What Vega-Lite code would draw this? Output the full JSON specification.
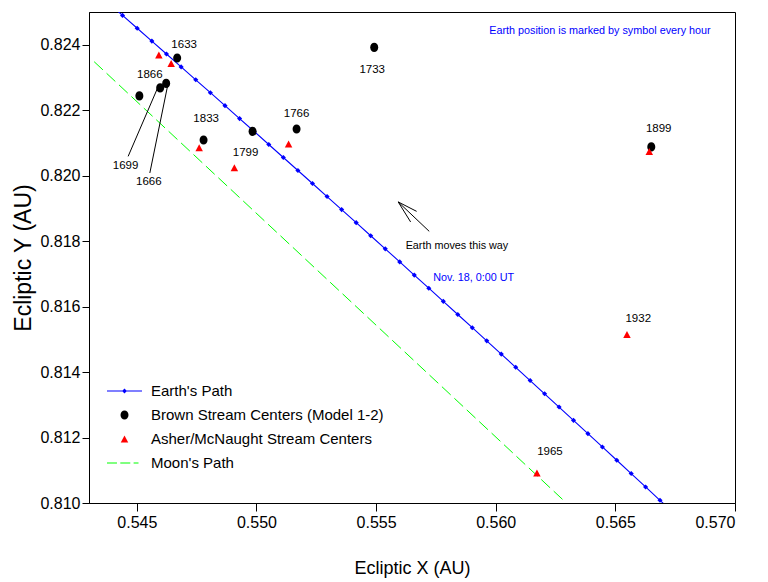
{
  "$schema": "https://vega.github.io/schema/vega-lite/v6.json",
  "width": 646,
  "height": 491,
  "autosize": {"type": "none"},
  "padding": {"left": 89, "top": 12, "right": 33, "bottom": 79},
  "background": "white",
  "config": {
    "view": {"stroke": "#000000", "strokeWidth": 1},
    "font": "Liberation Sans",
    "axis": {
      "grid": false,
      "domainColor": "#000000",
      "tickColor": "#000000",
      "labelColor": "#000000",
      "titleColor": "#000000",
      "labelFont": "Liberation Sans",
      "titleFont": "Liberation Sans",
      "titleFontWeight": "normal",
      "labelFontSize": 16
    }
  },
  "datasets": {
    "earth": [
      {"h": -1, "x": 0.543789, "y": 0.825288},
      {"h": 0, "x": 0.544402, "y": 0.824896},
      {"h": 1, "x": 0.545014, "y": 0.824504},
      {"h": 2, "x": 0.545627, "y": 0.824111},
      {"h": 3, "x": 0.546238, "y": 0.823718},
      {"h": 4, "x": 0.546850, "y": 0.823323},
      {"h": 5, "x": 0.547462, "y": 0.822929},
      {"h": 6, "x": 0.548073, "y": 0.822535},
      {"h": 7, "x": 0.548684, "y": 0.822139},
      {"h": 8, "x": 0.549294, "y": 0.821744},
      {"h": 9, "x": 0.549904, "y": 0.821349},
      {"h": 10, "x": 0.550514, "y": 0.820952},
      {"h": 11, "x": 0.551123, "y": 0.820555},
      {"h": 12, "x": 0.551732, "y": 0.820157},
      {"h": 13, "x": 0.552341, "y": 0.819760},
      {"h": 14, "x": 0.552950, "y": 0.819362},
      {"h": 15, "x": 0.553559, "y": 0.818963},
      {"h": 16, "x": 0.554167, "y": 0.818564},
      {"h": 17, "x": 0.554774, "y": 0.818165},
      {"h": 18, "x": 0.555382, "y": 0.817765},
      {"h": 19, "x": 0.555988, "y": 0.817365},
      {"h": 20, "x": 0.556595, "y": 0.816963},
      {"h": 21, "x": 0.557202, "y": 0.816562},
      {"h": 22, "x": 0.557808, "y": 0.816161},
      {"h": 23, "x": 0.558414, "y": 0.815758},
      {"h": 24, "x": 0.559020, "y": 0.815356},
      {"h": 25, "x": 0.559625, "y": 0.814953},
      {"h": 26, "x": 0.560230, "y": 0.814549},
      {"h": 27, "x": 0.560835, "y": 0.814146},
      {"h": 28, "x": 0.561439, "y": 0.813741},
      {"h": 29, "x": 0.562043, "y": 0.813336},
      {"h": 30, "x": 0.562647, "y": 0.812931},
      {"h": 31, "x": 0.563250, "y": 0.812525},
      {"h": 32, "x": 0.563854, "y": 0.812119},
      {"h": 33, "x": 0.564457, "y": 0.811713},
      {"h": 34, "x": 0.565059, "y": 0.811306},
      {"h": 35, "x": 0.565661, "y": 0.810899},
      {"h": 36, "x": 0.566263, "y": 0.810490},
      {"h": 37, "x": 0.566865, "y": 0.810082},
      {"h": 38, "x": 0.567466, "y": 0.809674}
    ],
    "moon": [
      {"x": 0.543215, "y": 0.823482},
      {"x": 0.562922, "y": 0.810021}
    ],
    "centers": [
      {"series": "Brown Stream Centers (Model 1-2)", "x": 0.546685, "y": 0.823595},
      {"series": "Brown Stream Centers (Model 1-2)", "x": 0.546225, "y": 0.822819},
      {"series": "Brown Stream Centers (Model 1-2)", "x": 0.545974, "y": 0.822679},
      {"series": "Brown Stream Centers (Model 1-2)", "x": 0.545105, "y": 0.822437},
      {"series": "Brown Stream Centers (Model 1-2)", "x": 0.547788, "y": 0.821090},
      {"series": "Brown Stream Centers (Model 1-2)", "x": 0.549837, "y": 0.821353},
      {"series": "Brown Stream Centers (Model 1-2)", "x": 0.551676, "y": 0.821426},
      {"series": "Brown Stream Centers (Model 1-2)", "x": 0.554921, "y": 0.823919},
      {"series": "Brown Stream Centers (Model 1-2)", "x": 0.566501, "y": 0.820877},
      {"series": "Asher/McNaught Stream Centers", "x": 0.545920, "y": 0.823687},
      {"series": "Asher/McNaught Stream Centers", "x": 0.546434, "y": 0.823430},
      {"series": "Asher/McNaught Stream Centers", "x": 0.547605, "y": 0.820855},
      {"series": "Asher/McNaught Stream Centers", "x": 0.549076, "y": 0.820244},
      {"series": "Asher/McNaught Stream Centers", "x": 0.551342, "y": 0.820968},
      {"series": "Asher/McNaught Stream Centers", "x": 0.566417, "y": 0.820742},
      {"series": "Asher/McNaught Stream Centers", "x": 0.565485, "y": 0.815144},
      {"series": "Asher/McNaught Stream Centers", "x": 0.561722, "y": 0.810919}
    ],
    "years": [
      {"label": "1633", "x": 0.546977, "y": 0.824001},
      {"label": "1866", "x": 0.545543, "y": 0.823085},
      {"label": "1699", "x": 0.544528, "y": 0.820284},
      {"label": "1666", "x": 0.545502, "y": 0.819795},
      {"label": "1833", "x": 0.547897, "y": 0.821732},
      {"label": "1799", "x": 0.549544, "y": 0.820693},
      {"label": "1766", "x": 0.551676, "y": 0.821885},
      {"label": "1733", "x": 0.554837, "y": 0.823216},
      {"label": "1899", "x": 0.566810, "y": 0.821426},
      {"label": "1932", "x": 0.565957, "y": 0.815623},
      {"label": "1965", "x": 0.562266, "y": 0.811549}
    ],
    "strokes": [
      {"x": 0.544636, "y": 0.820590, "x2": 0.545849, "y2": 0.822648},
      {"x": 0.545543, "y": 0.820082, "x2": 0.546309, "y2": 0.822831},
      {"x": 0.557220, "y": 0.818299, "x2": 0.555924, "y2": 0.819197},
      {"x": 0.555924, "y": 0.819197, "x2": 0.556693, "y2": 0.818910},
      {"x": 0.555924, "y": 0.819197, "x2": 0.556442, "y2": 0.818586}
    ],
    "blueNotes": [
      {"text": "Earth position is marked by symbol every hour", "x": 0.564356, "y": 0.824429},
      {"text": "Nov. 18, 0:00 UT", "x": 0.559076, "y": 0.816875}
    ],
    "blackNotes": [
      {"text": "Earth moves this way", "x": 0.558378, "y": 0.817862}
    ]
  },
  "layer": [
    {
      "data": {"name": "moon"},
      "mark": {"type": "line", "color": "#00ff00", "strokeWidth": 1, "strokeDash": [12, 5]},
      "encoding": {
        "x": {
          "field": "x", "type": "quantitative",
          "scale": {"domain": [0.543, 0.570], "nice": false, "zero": false},
          "axis": {
            "title": "Ecliptic X (AU)",
            "values": [0.545, 0.55, 0.555, 0.56, 0.565, 0.57],
            "format": ".3f",
            "tickSize": 8,
            "labelPadding": 3,
            "titleFontSize": 18,
            "titlePadding": 29
          }
        },
        "y": {
          "field": "y", "type": "quantitative",
          "scale": {"domain": [0.81, 0.825], "nice": false, "zero": false},
          "axis": {
            "title": "Ecliptic Y (AU)",
            "values": [0.81, 0.812, 0.814, 0.816, 0.818, 0.82, 0.822, 0.824],
            "format": ".3f",
            "tickSize": 7,
            "labelPadding": 2,
            "titleFontSize": 23,
            "titlePadding": 4
          }
        }
      }
    },
    {
      "data": {"name": "earth"},
      "mark": {"type": "line", "color": "#0000ff", "strokeWidth": 1.1, "clip": true},
      "encoding": {
        "x": {"field": "x", "type": "quantitative", "scale": {"domain": [0.543, 0.570], "nice": false, "zero": false}},
        "y": {"field": "y", "type": "quantitative", "scale": {"domain": [0.81, 0.825], "nice": false, "zero": false}},
        "order": {"field": "h", "type": "quantitative"}
      }
    },
    {
      "data": {"name": "earth"},
      "mark": {"type": "point", "shape": "diamond", "size": 26, "filled": true, "color": "#0000ff", "opacity": 1, "clip": true},
      "encoding": {
        "x": {"field": "x", "type": "quantitative", "scale": {"domain": [0.543, 0.570], "nice": false, "zero": false}},
        "y": {"field": "y", "type": "quantitative", "scale": {"domain": [0.81, 0.825], "nice": false, "zero": false}}
      }
    },
    {
      "data": {"name": "strokes"},
      "mark": {"type": "rule", "color": "#000000", "strokeWidth": 1},
      "encoding": {
        "x": {"field": "x", "type": "quantitative", "scale": {"domain": [0.543, 0.570], "nice": false, "zero": false}},
        "y": {"field": "y", "type": "quantitative", "scale": {"domain": [0.81, 0.825], "nice": false, "zero": false}},
        "x2": {"field": "x2"},
        "y2": {"field": "y2"}
      }
    },
    {
      "data": {"name": "centers"},
      "mark": {"type": "point", "filled": true, "size": 1225, "opacity": 1, "strokeWidth": 0},
      "encoding": {
        "x": {"field": "x", "type": "quantitative", "scale": {"domain": [0.543, 0.570], "nice": false, "zero": false}},
        "y": {"field": "y", "type": "quantitative", "scale": {"domain": [0.81, 0.825], "nice": false, "zero": false}},
        "color": {
          "field": "series", "type": "nominal",
          "scale": {
            "domain": ["Earth's Path", "Brown Stream Centers (Model 1-2)", "Asher/McNaught Stream Centers", "Moon's Path"],
            "range": ["#0000ff", "#000000", "#ff0000", "#00ff00"]
          },
          "legend": {
            "title": null,
            "orient": "none",
            "legendX": 18,
            "legendY": 367,
            "padding": 0,
            "symbolSize": 1225,
            "symbolStrokeWidth": 0,
            "symbolOpacity": 1,
            "clipHeight": 24,
            "rowPadding": 0,
            "labelOffset": 9,
            "labelFont": "Liberation Sans",
            "labelFontSize": 15,
            "labelColor": "#000000",
            "labelLimit": 400
          }
        },
        "shape": {
          "field": "series", "type": "nominal",
          "scale": {
            "domain": ["Earth's Path", "Brown Stream Centers (Model 1-2)", "Asher/McNaught Stream Centers", "Moon's Path"],
            "range": [
              "M-1,-0.03L1,-0.03L1,0.03L-1,0.03Z M0,-0.14L0.14,0L0,0.14L-0.14,0Z",
              "M-0.229,0A0.229,0.263,0,1,0,0.229,0A0.229,0.263,0,1,0,-0.229,0Z",
              "M0,-0.2L0.214,0.2L-0.214,0.2Z",
              "M-1,-0.03L-0.43,-0.03L-0.43,0.03L-1,0.03Z M-0.24,-0.03L0.33,-0.03L0.33,0.03L-0.24,0.03Z M0.52,-0.03L0.8,-0.03L0.8,0.03L0.52,0.03Z"
            ]
          },
          "legend": {
            "title": null,
            "orient": "none",
            "legendX": 18,
            "legendY": 367,
            "padding": 0,
            "symbolSize": 1225,
            "symbolStrokeWidth": 0,
            "symbolOpacity": 1,
            "clipHeight": 24,
            "rowPadding": 0,
            "labelOffset": 9,
            "labelFont": "Liberation Sans",
            "labelFontSize": 15,
            "labelColor": "#000000",
            "labelLimit": 400
          }
        }
      }
    },
    {
      "data": {"name": "years"},
      "mark": {"type": "text", "font": "Liberation Sans", "fontSize": 11.5, "color": "#000000", "align": "center", "baseline": "middle"},
      "encoding": {
        "x": {"field": "x", "type": "quantitative", "scale": {"domain": [0.543, 0.570], "nice": false, "zero": false}},
        "y": {"field": "y", "type": "quantitative", "scale": {"domain": [0.81, 0.825], "nice": false, "zero": false}},
        "text": {"field": "label"}
      }
    },
    {
      "data": {"name": "blueNotes"},
      "mark": {"type": "text", "font": "Liberation Sans", "fontSize": 10.8, "color": "#0000ff", "align": "center", "baseline": "middle"},
      "encoding": {
        "x": {"field": "x", "type": "quantitative", "scale": {"domain": [0.543, 0.570], "nice": false, "zero": false}},
        "y": {"field": "y", "type": "quantitative", "scale": {"domain": [0.81, 0.825], "nice": false, "zero": false}},
        "text": {"field": "text"}
      }
    },
    {
      "data": {"name": "blackNotes"},
      "mark": {"type": "text", "font": "Liberation Sans", "fontSize": 10.8, "color": "#000000", "align": "center", "baseline": "middle"},
      "encoding": {
        "x": {"field": "x", "type": "quantitative", "scale": {"domain": [0.543, 0.570], "nice": false, "zero": false}},
        "y": {"field": "y", "type": "quantitative", "scale": {"domain": [0.81, 0.825], "nice": false, "zero": false}},
        "text": {"field": "text"}
      }
    }
  ]
}
